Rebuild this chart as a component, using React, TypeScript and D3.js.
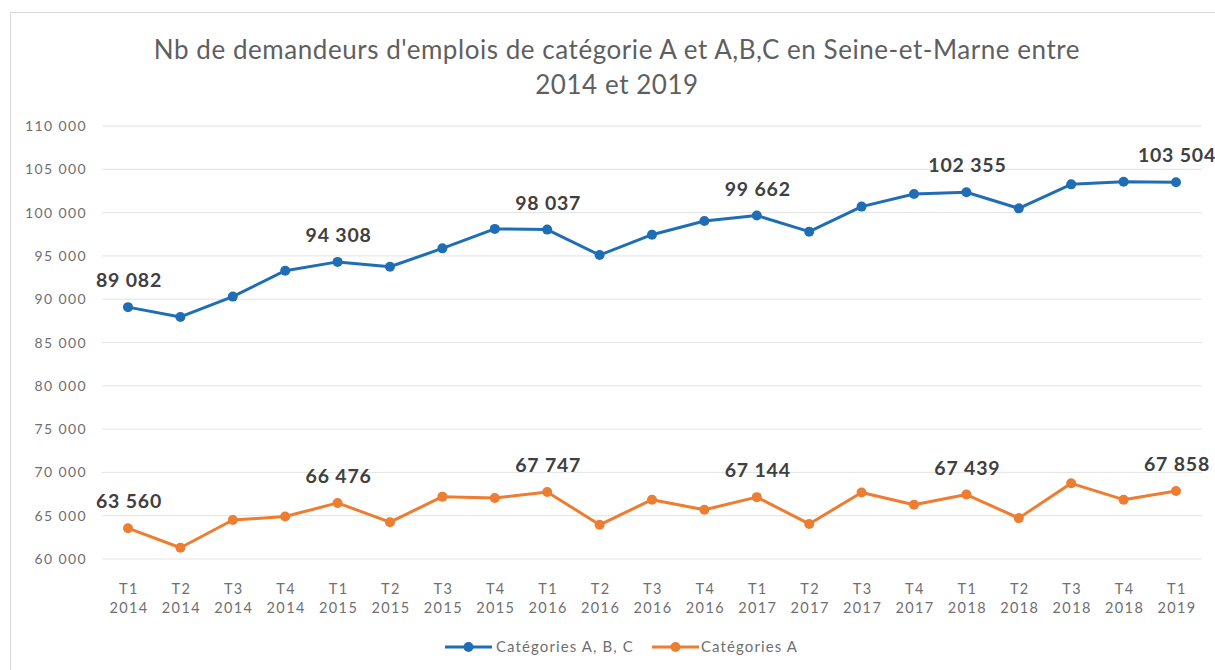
import React from "react";
import * as d3 from "d3";

const quarters = ["T1","T2","T3","T4","T1","T2","T3","T4","T1","T2","T3","T4","T1","T2","T3","T4","T1","T2","T3","T4","T1"];
const years = ["2014","2014","2014","2014","2015","2015","2015","2015","2016","2016","2016","2016","2017","2017","2017","2017","2018","2018","2018","2018","2019"];
const abcValues = [89082,87950,90300,93290,94308,93750,95870,98120,98037,95100,97450,99030,99662,97800,100690,102150,102355,100490,103260,103570,103504];
const aValues = [63560,61300,64500,64900,66476,64250,67200,67050,67747,63950,66850,65680,67144,64050,67680,66270,67439,64720,68740,66850,67858];
const labelIdx = [0,4,8,12,16,20];
const yTicks = [60000,65000,70000,75000,80000,85000,90000,95000,100000,105000,110000];
const seriesNames = ["Catégories A, B, C","Catégories A"];
const colors = ["#1F6EB5","#ED7D31"];

const W = 1215, H = 670;
const fmt = (v: number) => d3.format(",")(v).replace(/,/g, " ");

export default function App() {
  const x = d3.scalePoint<number>().domain(d3.range(quarters.length)).range([128, 1176]);
  const y = d3.scaleLinear().domain([60000, 110000]).range([559, 126]);
  const line = d3.line<number>().x((_, i) => x(i)!).y(v => y(v));
  const series = [abcValues, aValues];
  const font = "Lato, 'Open Sans', sans-serif";
  const legendPos = [[445, 496], [652, 701]];
  return (
    <svg width={W} height={H} style={{ position: "absolute", left: 0, top: 0, background: "#fff" }} fontFamily={font}>
      <rect x={10.5} y={12.5} width={W + 10} height={H + 10} fill="#fff" stroke="#d9d9d9" />
      <text x={617} y={59} textAnchor="middle" fontSize={26} letterSpacing={0.55} fill="#5f5f5f">Nb de demandeurs d'emplois de catégorie A et A,B,C en Seine-et-Marne entre</text>
      <text x={617} y={94} textAnchor="middle" fontSize={26} letterSpacing={0.55} fill="#5f5f5f">2014 et 2019</text>
      {yTicks.map(t => (
        <g key={t}>
          <line x1={102} x2={1202} y1={y(t)} y2={y(t)} stroke="#e3e3e3" strokeWidth={1} />
          <text x={87} y={y(t) + 5} textAnchor="end" fontSize={14} letterSpacing={1.4} fill="#6f6f6f">{fmt(t)}</text>
        </g>
      ))}
      {quarters.map((q, i) => (
        <g key={i}>
          <text x={x(i)! + 1} y={594} textAnchor="middle" fontSize={14.5} letterSpacing={1.4} fill="#6f6f6f">{q}</text>
          <text x={x(i)! + 1} y={613} textAnchor="middle" fontSize={14.5} letterSpacing={1.4} fill="#6f6f6f">{years[i]}</text>
        </g>
      ))}
      {series.map((s, k) => (
        <g key={k}>
          <path d={line(s)!} fill="none" stroke={colors[k]} strokeWidth={3} strokeLinejoin="round" />
          {s.map((v, i) => (
            <circle key={i} cx={x(i)} cy={y(v)} r={5} fill={colors[k]} />
          ))}
          {labelIdx.map(i => (
            <text key={i} x={x(i)! + 1} y={y(s[i]) - 20} textAnchor="middle" fontSize={19.5} letterSpacing={0.8} fontWeight="bold" fill="#404040">{fmt(s[i])}</text>
          ))}
        </g>
      ))}
      {seriesNames.map((n, k) => {
        const [x0, tx] = legendPos[k];
        return (
          <g key={n}>
            <line x1={x0} x2={x0 + 47} y1={647} y2={647} stroke={colors[k]} strokeWidth={3} />
            <circle cx={x0 + 23.5} cy={647} r={5} fill={colors[k]} />
            <text x={tx} y={652} fontSize={15} letterSpacing={1.1} fill="#6f6f6f">{n}</text>
          </g>
        );
      })}
    </svg>
  );
}
